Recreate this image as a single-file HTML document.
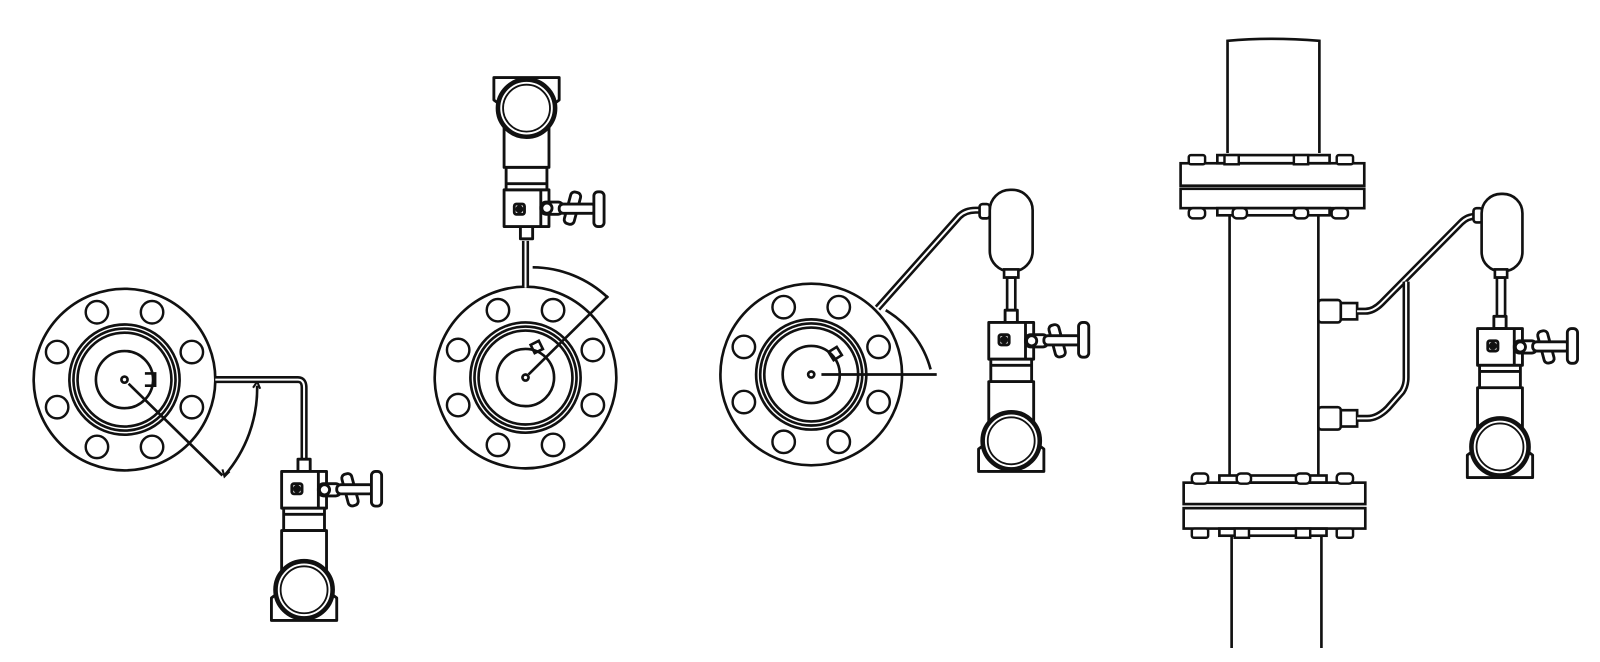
<!DOCTYPE html>
<html><head><meta charset="utf-8"><style>
html,body{margin:0;padding:0;background:#fff;width:1600px;height:662px;overflow:hidden}
svg{display:block}
</style></head><body>
<svg width="1600" height="662" viewBox="0 0 1600 662" xmlns="http://www.w3.org/2000/svg">
<defs>
<g id="tx" fill="#fff" stroke="#111" stroke-width="2.8" stroke-linejoin="round">
  <rect x="-6" y="-12" width="12" height="12"/>
  <rect x="-22" y="0" width="44" height="36"/>
  <line x1="14" y1="0" x2="14" y2="36"/>
  <rect x="-12" y="12" width="10" height="10" rx="2"/>
  <circle cx="-7" cy="17" r="2.5" fill="#111"/>
  <rect x="14" y="12" width="22" height="12" rx="5"/>
  <circle cx="20" cy="18" r="5"/>
  <rect x="40" y="2" width="10" height="32" rx="4" transform="rotate(-15 45 18)"/>
  <rect x="32" y="13" width="36" height="9" rx="4"/>
  <rect x="66" y="0" width="10" height="34" rx="4"/>
  <rect x="-20" y="36" width="40" height="22"/>
  <line x1="-20" y1="42" x2="20" y2="42"/>
  <rect x="-22" y="58" width="44" height="42"/>
  <path d="M-32,146 L-32,124 L-24,118 L24,118 L32,124 L32,146 Z"/>
  <circle cx="0" cy="116" r="28" stroke-width="4.5"/>
  <circle cx="0" cy="116" r="23" stroke-width="1.8"/>
</g>
<g id="fl" fill="none" stroke="#111" stroke-width="2.6">
  <circle r="89"/>
  <circle r="54"/><circle r="50"/><circle r="46"/>
  <circle r="28"/>
  <circle r="3"/>
  <g stroke-width="2.4">
    <circle cx="66" cy="27" r="11"/><circle cx="27" cy="66" r="11"/>
    <circle cx="-27" cy="66" r="11"/><circle cx="-66" cy="27" r="11"/>
    <circle cx="-66" cy="-27" r="11"/><circle cx="-27" cy="-66" r="11"/>
    <circle cx="27" cy="-66" r="11"/><circle cx="66" cy="-27" r="11"/>
  </g>
</g>
</defs>
<g transform="scale(1.0204)">
<g fill="none" stroke="#111" stroke-width="2.6">
<use href="#fl" transform="translate(122,372)"/>
<path d="M142,366 h10 v12 h-10"/>
<line x1="126" y1="376" x2="218" y2="466"/>
<path d="M252,378 A130,130 0 0 1 220,466"/>
<path d="M248,380 l4,-6 l3,7 M218,460 l2,7 l5,-5" stroke-width="2"/>
<path d="M211,372 H292 Q298,372 298,380 V450" stroke-width="7"/>
<path d="M211,372 H292 Q298,372 298,380 V450" stroke="#fff" stroke-width="2"/>
<use href="#tx" transform="translate(298,462)"/>
<use href="#fl" transform="translate(515,370)"/>
<path d="M515,236 V282" stroke-width="7"/><path d="M515,236 V282" stroke="#fff" stroke-width="2"/>
<line x1="518" y1="367" x2="596" y2="290"/>
<path d="M522,262 A108,108 0 0 1 596,292"/>
<path d="M520,338 l8,-4 l4,8 l-8,4 z"/>
<use href="#tx" transform="translate(516,222) scale(1,-1)"/>
<use href="#fl" transform="translate(795,367)"/>
<path d="M812,345 l8,-5 l5,8 l-8,5 z"/>
<line x1="805" y1="367" x2="918" y2="367"/>
<path d="M868,304 A96,96 0 0 1 912,362"/>
<path d="M860,302 L940,212 Q946,206 956,206 H962" stroke-width="7"/>
<path d="M860,302 L940,212 Q946,206 956,206 H962" stroke="#fff" stroke-width="2"/>
<rect x="960" y="200" width="10" height="14" rx="3" fill="#fff"/>
<rect x="970" y="186" width="42" height="80" rx="20" fill="#fff"/>
<rect x="984" y="264" width="14" height="8" fill="#fff"/>
<rect x="987" y="272" width="8" height="32"/>
<use href="#tx" transform="translate(991,316)"/>
<path d="M1203,150 V40 Q1245,36 1293,40 V150"/>
<path d="M1205,210 V465 M1292,210 V465"/>
<path d="M1207,525 V635 M1295,525 V635"/>
<rect x="1157" y="160" width="180" height="22"/>
<rect x="1157" y="185" width="180" height="19"/>
<rect x="1193" y="152" width="110" height="8"/>
<rect x="1193" y="204" width="110" height="7"/>
<rect x="1160" y="473" width="178" height="21"/>
<rect x="1160" y="498" width="178" height="20"/>
<rect x="1195" y="466" width="105" height="7"/>
<rect x="1195" y="518" width="105" height="7"/>
<g fill="#fff" stroke-width="2.4">
<rect x="1165" y="152" width="16" height="9" rx="2"/><rect x="1200" y="152" width="14" height="9"/><rect x="1268" y="152" width="14" height="9"/><rect x="1310" y="152" width="16" height="9" rx="2"/>
<rect x="1165" y="204" width="16" height="10" rx="4"/><rect x="1208" y="204" width="14" height="10" rx="4"/><rect x="1268" y="204" width="14" height="10" rx="4"/><rect x="1305" y="204" width="16" height="10" rx="4"/>
<rect x="1168" y="464" width="16" height="10" rx="4"/><rect x="1212" y="464" width="14" height="10" rx="4"/><rect x="1270" y="464" width="14" height="10" rx="4"/><rect x="1310" y="464" width="16" height="10" rx="4"/>
<rect x="1168" y="518" width="16" height="9" rx="2"/><rect x="1210" y="518" width="14" height="9"/><rect x="1270" y="518" width="14" height="9"/><rect x="1310" y="518" width="16" height="9" rx="2"/>
</g>
<rect x="1292" y="294" width="22" height="22" rx="3" fill="#fff"/>
<rect x="1314" y="297" width="16" height="16" fill="#fff"/>
<rect x="1292" y="399" width="22" height="22" rx="3" fill="#fff"/>
<rect x="1314" y="402" width="16" height="16" fill="#fff"/>
<path d="M1330,305 H1338 Q1346,305 1354,297 L1432,218 Q1438,212 1446,212" stroke-width="7"/>
<path d="M1330,305 H1338 Q1346,305 1354,297 L1432,218 Q1438,212 1446,212" stroke="#fff" stroke-width="2"/>
<path d="M1330,410 H1340 Q1350,410 1360,400 L1374,384 Q1378,378 1378,370 V276" stroke-width="7"/>
<path d="M1330,410 H1340 Q1350,410 1360,400 L1374,384 Q1378,378 1378,370 V276" stroke="#fff" stroke-width="2"/>
<rect x="1444" y="204" width="9" height="14" rx="3" fill="#fff"/>
<rect x="1452" y="190" width="40" height="76" rx="19" fill="#fff"/>
<rect x="1465" y="264" width="12" height="8" fill="#fff"/>
<rect x="1467" y="272" width="8" height="38"/>
<use href="#tx" transform="translate(1470,322)"/>
</g>
</g>
</svg>
</body></html>
